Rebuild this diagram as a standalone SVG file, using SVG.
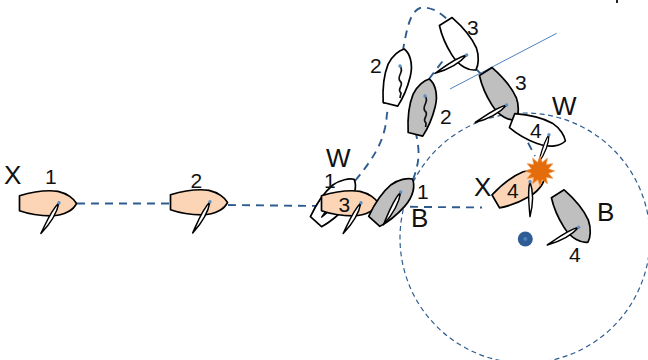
<svg xmlns="http://www.w3.org/2000/svg" xmlns:xlink="http://www.w3.org/1999/xlink" width="648" height="360" viewBox="0 0 648 360">
<style>
text{font-family:"Liberation Sans",Arial,sans-serif;fill:#111}
.n{font-size:21px}.l{font-size:26px}
.hull{stroke:#000;stroke-width:1.7;stroke-linejoin:round}
.x{fill:#FBD5B5}.w{fill:#fff}.b{fill:#BFBFBF}
.sail{fill:#fff;stroke:#000;stroke-width:1.5;stroke-linejoin:round}
.wig{fill:none;stroke:#111;stroke-width:1.7}
.mast{fill:#5B8FC7}
.track{fill:none;stroke:#2F5C8F;stroke-width:1.9;stroke-dasharray:8 6}
.ring{fill:none;stroke:#2F5C8F;stroke-width:1.2;stroke-dasharray:5 3.5}
</style>
<defs>
<path id="hull" d="M-39.5,-7.5C-28,-11 -12,-13.5 -1,-12C8,-10 15,-4.5 17.5,0C15,6 6,12.5 -8,12.5C-21,12.5 -31,10.5 -39.5,7.5Z"/>
<path id="sail" d="M0,0C10,-3.600 24,-3 36,0C24,1 10,3 0,0Z"/>
<circle id="mast" r="1.7"/>
</defs>
<g id="connectors">
<circle class="ring" cx="525" cy="238" r="125"/>
<path class="track" d="M77,203.5L170,203.5M228,205L322,206L482,207.5"/>
<path class="track" d="M355,181C372,160 381,146 385,128C388,113 385,125 388,108M384,104C385,80 392,66 403,50C407,28 410,12 420,8C430,6 440,12 448,20"/>
<path class="track" d="M413,180C418,165 421,155 416,134M429,79L445,58M475,68L481,74M515,118L535,156"/>
<path d="M450,89L556.700,33.300" fill="none" stroke="#4F81BD" stroke-width="1"/>
</g>
<g id="boat-x1">
<use href="#hull" class="hull x" transform="translate(59 203.300)"/><use href="#sail" class="sail" transform="translate(59 202.700) rotate(120.500) scale(.99)"/><use href="#mast" class="mast" x="59" y="202.700"/>
<text class="l" x="4" y="184">X</text><text class="n" x="45" y="184">1</text>
</g>
<g id="boat-x2">
<use href="#hull" class="hull x" transform="translate(210 202.300)"/><use href="#sail" class="sail" transform="translate(210 201.700) rotate(119) scale(.99)"/><use href="#mast" class="mast" x="210" y="201.700"/>
<text class="n" x="190.500" y="188">2</text>
</g>
<g id="boat-w1">
<use href="#hull" class="hull w" transform="translate(342.400 192.300) rotate(-48)"/><use href="#sail" class="sail" transform="translate(342.400 192.300) rotate(130) scale(.9)"/>
<text class="l" x="326" y="167">W</text><text class="n" x="324" y="188">1</text>
</g>
<g id="boat-x3">
<use href="#hull" class="hull x" transform="translate(361 203.300)"/><use href="#sail" class="sail" transform="translate(361 202.700) rotate(120) scale(.99)"/><use href="#mast" class="mast" x="361" y="202.700"/>
<text class="n" x="338.500" y="212">3</text>
</g>
<g id="boat-b1">
<use href="#hull" class="hull b" transform="translate(400.700 192) rotate(-48)"/><use href="#sail" class="sail" transform="translate(400.700 192) rotate(117.800) scale(1.03)"/><use href="#mast" class="mast" x="400.700" y="192"/>
<text class="n" x="417" y="199">1</text><text class="l" x="411" y="227">B</text>
</g>
<g id="boat-w2">
<use href="#hull" class="hull w" transform="translate(400 66) rotate(-76)"/><path class="wig" d="M400,66C405,72 396,76 400,81C405,85 396,89 401,93L400,98"/><use href="#mast" class="mast" x="400" y="66"/>
<text class="n" x="370" y="73">2</text>
</g>
<g id="boat-b2">
<use href="#hull" class="hull b" transform="translate(425 96) rotate(-76)"/><path class="wig" d="M425,96C430,102 421,106 425,111C430,115 421,119 426,123L425.700,127"/><use href="#mast" class="mast" x="425" y="96"/>
<text class="n" x="440" y="124">2</text>
</g>
<g id="boat-w3">
<use href="#hull" class="hull w" transform="translate(466.700 55) rotate(58)"/><use href="#sail" class="sail" transform="translate(466.700 55) rotate(150) scale(1.02)"/><use href="#mast" class="mast" x="466.700" y="55"/>
<text class="n" x="467" y="35">3</text>
</g>
<g id="boat-b3">
<use href="#hull" class="hull b" transform="translate(506.700 105) rotate(58)"/><use href="#sail" class="sail" transform="translate(506.700 105) rotate(151)"/><use href="#mast" class="mast" x="506.700" y="105"/>
<text class="n" x="515" y="90">3</text>
</g>
<g id="boat-x4">
<use href="#hull" class="hull x" transform="translate(530 181.700) rotate(-30)"/><use href="#sail" class="sail" transform="translate(530 181.700) rotate(90) scale(.97)"/><use href="#mast" class="mast" x="530" y="181.700"/>
<text class="n" x="507" y="198">4</text><text class="l" x="474" y="196">X</text>
</g>
<g id="boat-w4">
<use href="#hull" class="hull w" transform="translate(549 134.700) rotate(21)"/><use href="#sail" class="sail" transform="translate(549 134.700) rotate(110.500) scale(.85)"/><use href="#mast" class="mast" x="549" y="134.700"/>
<text class="n" x="530" y="138">4</text><text class="l" x="552" y="115">W</text>
</g>
<g id="collision">
<polygon fill="#E46C0A" stroke="#F4A460" stroke-width=".6" points="540,156 542.300,162.300 547.500,158 546.400,164.600 553,163.500 548.700,168.700 555,171 548.700,173.300 553,178.500 546.400,177.400 547.500,184 542.300,179.700 540,186 537.700,179.700 532.500,184 533.600,177.400 527,178.500 531.300,173.300 525,171 531.300,168.700 527,163.500 533.600,164.600 532.500,158 537.700,162.300"/>
</g>
<g id="boat-b4">
<use href="#hull" class="hull b" transform="translate(578.700 227.300) rotate(58)"/><use href="#sail" class="sail" transform="translate(578.700 227.300) rotate(150.600)"/><use href="#mast" class="mast" x="578.700" y="227.300"/>
<text class="n" x="569" y="262">4</text><text class="l" x="597" y="221">B</text>
</g>
<g id="mark">
<circle cx="525.300" cy="239" r="7.500" fill="#2F5C94"/><circle cx="525.300" cy="239" r="2" fill="#4F81BD"/>
</g>
<rect x="616" y="0" width="2" height="3" fill="#222"/>
</svg>
